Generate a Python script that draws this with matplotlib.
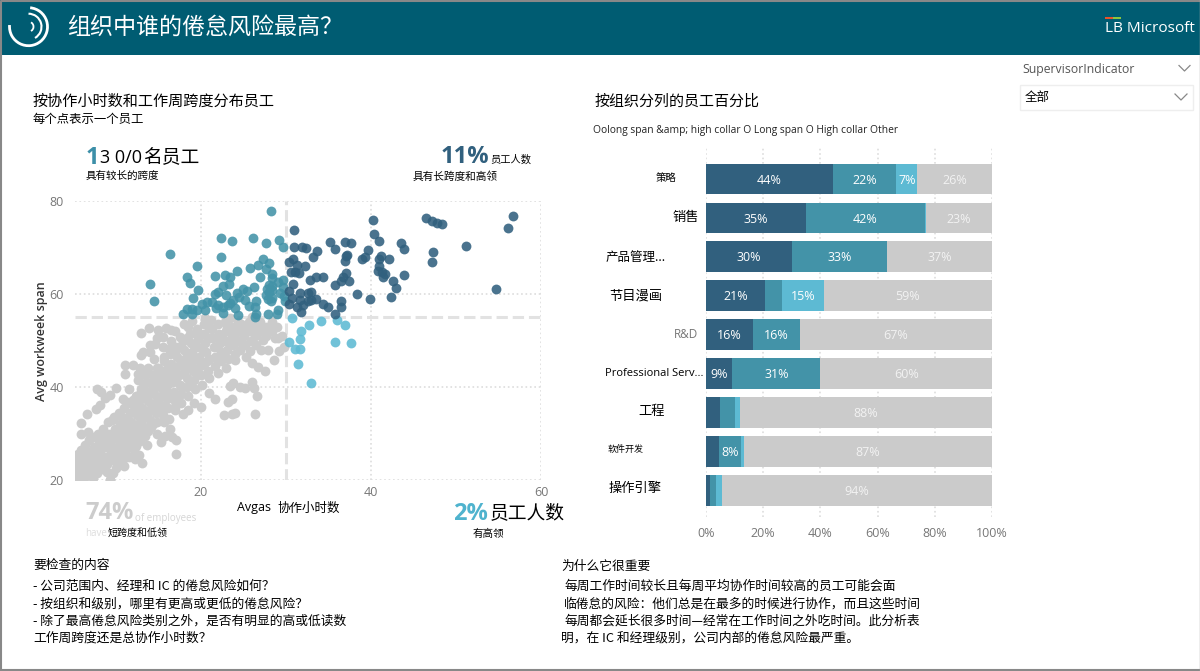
import matplotlib
matplotlib.use('Agg')
import matplotlib.pyplot as plt
from matplotlib.patches import Rectangle, Arc

plt.rcParams['font.family'] = ['Noto Sans CJK SC', 'DejaVu Sans']

# scatter values: (collab hours, workweek span)
dark_pts = [(30.9,73.8),(31.0,70.2),(31.9,70.2),(32.4,69.9),(33.7,69.3),(33.2,68.0),(35.2,71.1),(35.8,69.7),
    (36.9,71.1),(37.7,71.0),(40.2,76.0),(40.3,73.0),(40.9,71.5),(39.6,69.5),(37.1,68.2),(37.2,68.4),(36.9,67.2),
    (39.0,67.5),(39.3,68.0),(40.9,67.6),(41.2,68.1),(42.1,67.5),(43.5,71.0),(43.9,69.6),(46.5,76.4),(47.2,75.6),
    (47.8,75.2),(48.4,75.1),(47.3,69.1),(47.2,66.9),(51.2,70.3),(56.7,76.8),(56.1,74.2),(54.7,61.1),(43.9,64.0),
    (42.6,62.7),(43.0,61.2),(42.3,59.4),(39.9,58.9),(38.4,59.9),(40.9,66.0),(40.8,65.0),(41.3,64.8),(41.6,64.4),
    (41.4,63.7),(37.1,64.6),(36.7,63.7),(36.5,62.7),(35.8,62.0),(37.4,62.7),(34.4,63.7),(33.5,63.7),(32.8,63.0),
    (30.8,67.5),(30.4,66.8),(31.3,66.2),(32.2,66.0),(30.6,64.8),(31.1,64.8),(31.5,64.6),(30.8,62.2),(30.3,60.7),
    (31.6,60.2),(32.6,60.3),(32.9,60.4),(30.7,59.1),(31.7,58.7),(33.5,58.9),(33.0,58.7),(32.6,58.4),(34.3,57.9),
    (34.9,57.1),(36.5,58.4),(36.5,57.1),(35.8,55.6),(31.8,56.1),(31.3,57.3),(32.0,57.6),(30.4,57.9)]
teal_pts = [(28.2,77.8),(22.4,72.1),(23.6,71.3),(26.1,72.0),(27.6,71.0),(29.2,71.6),(29.7,70.1),(16.4,68.5),
    (22.4,67.9),(19.5,66.0),(27.3,67.5),(26.7,66.3),(28.0,66.6),(25.8,65.6),(24.2,64.9),(18.4,63.7),(18.7,62.3),
    (21.6,63.8),(22.8,64.1),(23.4,63.6),(27.0,63.7),(27.7,65.3),(28.4,64.4),(28.3,63.4),(14.0,62.1),(14.5,58.4),
    (19.6,60.9),(22.6,61.8),(23.3,62.2),(26.2,61.5),(28.0,62.0),(29.1,62.5),(28.3,60.9),(27.7,59.8),(27.9,58.9),
    (28.3,59.1),(22.0,60.4),(21.6,60.0),(23.0,59.8),(24.2,60.3),(25.4,60.7),(24.5,59.4),(25.2,58.7),(19.1,59.1),
    (20.1,57.8),(20.7,58.2),(21.3,58.2),(22.0,57.6),(21.8,56.9),(22.6,57.1),(23.4,58.0),(23.8,58.7),(18.3,56.8),
    (18.9,56.8),(19.5,56.6),(17.9,55.8),(22.6,56.0),(23.2,57.6),(24.3,55.5),(25.6,57.4),(26.4,57.3),(26.5,55.8),
    (26.4,55.1),(27.9,55.7),(29.1,56.6),(28.9,55.8),(29.7,61.6),(29.3,60.2),(29.9,58.4),(28.0,60.5),(28.4,61.8),
    (27.8,61.0),(28.2,58.5),(29.6,63.0),(29.8,59.5),(25.0,61.0),(26.5,58.5),(24.0,57.0),(19.0,55.6),(20.5,56.5)]
light_pts = [(30.7,54.9),(32.7,53.4),(34.1,54.2),(36.0,54.4),(36.9,53.3),(31.8,52.0),(31.7,50.4),(30.3,49.7),
    (31.1,48.2),(31.7,48.2),(35.8,49.7),(37.6,49.5),(31.4,45.0),(33.0,40.9)]
gray_pts = [(5.3,20.5),(5.4,22),(5.3,24),(5.5,25.5),(5.6,23),(5.8,21),(5.9,26.5),(6.0,24.5),(6.1,22.5),(6.2,20.4),
    (6.3,27.5),(6.4,25.5),(6.5,23.5),(6.6,21.5),(6.8,28.5),(6.9,26),(7.0,24),(7.1,22),(7.3,20.5),(7.3,29.2),
    (7.4,27),(7.5,25),(7.6,23),(7.8,21.5),(7.9,30),(8.0,28),(8.1,26),(8.2,24),(8.3,22.3),(8.5,31),(8.6,29),
    (8.7,27),(8.8,25),(8.9,23.5),(9.1,32.5),(9.2,30),(9.3,28),(9.4,26),(9.5,24.2),(9.7,21.6),(9.3,20),(9.8,33.5),
    (9.9,31),(10,29),(10.1,27),(10.2,25),(10.4,34.5),(10.5,32),(10.6,30),(10.7,28),(10.8,26),(10.9,24.8),(11,35.5),
    (11.1,33),(11.2,31),(11.3,29),(11.4,27.2),(11.6,36.5),(11.7,34.5),(11.8,32.5),(11.9,30.5),(12,28.5),(12.1,26.5),
    (12.3,38),(12.4,36),(12.5,34),(12.6,32),(12.7,30),(12.8,28.3),(12.9,39.5),(13,37.5),(13.1,35.5),(13.2,33.5),
    (13.3,31.5),(13.4,29.5),(13.6,41),(13.7,39),(13.8,37),(13.9,35),(14,33),(14.1,31.3),(14.3,42.5),(14.4,40.5),
    (14.5,38.5),(14.6,36.5),(14.7,34.5),(14.8,32.5),(15,44),(15.1,42),(15.2,40),(15.3,38),(15.4,36),(15.5,34),
    (15.6,45.5),(15.7,43.5),(15.8,41.5),(15.9,39.5),(16,37.5),(16.1,35.5),(16.2,33.2),(16.4,47),(16.5,45),(16.6,43),
    (16.7,41),(16.8,39),(16.9,37),(17,35),(17.1,48.5),(17.2,46.5),(17.3,44.5),(17.4,42.5),(17.5,40.5),(17.6,38.5),
    (17.7,36.5),(17.9,50),(18,48),(18.1,46),(18.2,44),(18.3,42),(18.4,40),(18.5,38),(18.7,51.5),(18.8,49.5),
    (18.9,47.5),(19,45.5),(19.1,43.5),(19.2,41.5),(19.3,39.5),(19.5,52.5),(19.6,50.5),(19.7,48.5),(19.8,46.5),
    (19.9,44.5),(20,42.5),(20.1,40.5),(20.3,53.5),(20.4,51.5),(20.5,49.5),(20.6,47.5),(20.7,45.5),(20.8,43.5),
    (21,38.8),(21.2,54.5),(21.3,52.5),(21.4,50.5),(21.5,48.5),(21.6,46.5),(21.7,44.5),(21.6,37.4),(22,53.5),
    (22.1,51.5),(22.2,49.5),(22.3,47.5),(22.4,45.5),(22.8,54),(22.9,52),(23,50),(23.1,48),(23.2,46),(23.6,53),
    (23.7,51),(23.8,49),(24.3,54),(24.4,52),(24.5,50),(24.6,48),(25,53),(25.1,51),(25.2,49),(25.3,46.5),(25.7,54),
    (25.8,52),(25.9,50),(26.3,53),(26.4,51),(26.5,49),(26.9,54),(27,52),(27.6,53),(27.7,51),(28.3,54),(28.4,52),
    (29,53),(29.1,50.5),(13,51.7),(13.9,52.6),(15,52.2),(15.9,52.6),(14,49),(14.6,49.2),(12.9,46.8),(11.1,44.7),
    (12,44.7),(11.1,42.9),(12.8,44),(7.8,39.6),(8.2,39),(9.3,38.3),(10,39.7),(8.7,37.7),(8.1,36.1),(7.6,35.2),
    (6.6,34.3),(5.9,32.2),(5.85,30),(6.75,30.4),(17.1,25.5),(12.7,25.4),(13.1,23.6),(9.3,20),(15.3,28.1),(17.1,28.6),
    (16.6,29.2),(15.8,29.5),(26.4,34.1),(24,34.5),(23.7,34.3),(22.7,33.9),(23.7,37.4),(23.2,36.8),(20,35.7),
    (26.6,38.1),(26.2,39.7),(26,41.1),(25.2,39.7),(24.6,39.9),(23.8,40.8),(23.4,40.2),(27.5,43.5),(26.7,44.4),
    (26,45.2),(28.6,45.7),(27.1,47.9),(29.8,48.7),(17,52),(18,53.5),(19,54.3),(16.5,50),(15.5,48.5),(14.5,46),
    (13.8,44),(12.6,41.5),(11.5,39.5),(10.8,37.5),(16.3,31),(14.8,30),(13.6,27.5),(12.2,24.5),(11,23),(10,22.5),
    (18.5,35),(19.2,36.5),(17.9,34.2),(20.5,54.8),(23.4,54.8),(26,55),(27.9,48),(29.5,51),(29.2,47.8),(24,45.8),
    (21,42),(22,43),(23,44),
    (6.3,21.8),(7.2,23.4),(6.7,25),(7.7,26),(8.4,24.6),(9,27.5),(8.3,29.2),(9.6,29.5),(10.4,26.5),(10.3,28.6),
    (11.1,26),(9.7,25.2),(8.9,21.8),(10.4,23.6),(11.5,25),(12.4,27.4),(11.7,29.6),(12.3,31),(11.3,32),(10.7,33.5),
    (10.2,31),(9.5,32.8),(13,32.5),(13.8,30.5),(14.4,32),(13.6,34),(12.9,35),(12.1,35),(11.3,36.8),(12,37.3),
    (12.8,38.4),(13.5,38),(14.3,36),(15,35),(15.7,32.5),(14.9,37),(15.6,38.8),(14.2,39.5),(13.3,40.6),(12.6,42.8),
    (13.4,42.6),(14.6,41.2),(15.3,42.8),(16.1,40.6),(16.4,38),(16.9,35.8),(17.3,38),(17.8,40),(17.1,41.8),(16.2,42.6),
    (14.8,44),(15.6,46.4),(16.1,44.5),(17,44),(18,43),(18.7,41),(19.6,42.8),(18.8,44.8),(17.8,45),(17,47.5),
    (16.2,48.2),(17.6,48.8),(18.4,47),(19.4,46),(20.3,45),(21,46),(20.2,48),(19.2,49),(18.4,50.5),(19.8,51.5),
    (20.9,50.6),(21,52.6),(22.5,50.8),(21.9,48.5),(23.4,49.2),(24,50.6),(23.1,52.6),(24.7,53.5),(25.4,52),(26.7,51.8),
    (26.6,53.8),(27.3,50.2),(28,52.8),(28.7,50.5),(22.6,46.5),(24,47.2),(25.8,47.8),(17.5,50.8),(16.5,52.3),(18.5,52.8),
    (14.8,50.5),(15.5,50.8),(13.2,47.5),(14,47.5)]

orgs = ['策略', '销售', '产品管理...', '节目漫画', 'R&D', 'Professional Serv...', '工程', '软件开发', '操作引擎']
long_high = [44.4, 34.8, 30.2, 20.6, 16.4, 9.2, 4.8, 4.5, 1.4]
long_span = [22.1, 41.8, 33.2, 6.0, 16.4, 30.8, 5.3, 7.9, 2.2]
high_collar = [7.4, 0.4, 0, 14.6, 0, 0, 1.9, 0.9, 2.1]
other = [26.1, 23.0, 36.6, 58.8, 67.2, 60.0, 88.0, 86.7, 94.3]
pct_ticks = [0, 20, 40, 60, 80, 100]

C_DARK = '#31607E'
C_TEAL = '#4393A8'
C_LIGHT = '#5DBAD3'
C_GRAY = '#CBCBCB'

fig = plt.figure(figsize=(12, 6.71), dpi=100)


def px_axes(left, top, right, bottom, **kw):
    return fig.add_axes([left / 1200, 1 - bottom / 671, (right - left) / 1200, (bottom - top) / 671], **kw)


bg = px_axes(0, 0, 1200, 671)
bg.set_xlim(0, 1200)
bg.set_ylim(671, 0)
bg.axis('off')


def put(x, y, s, size=9, color='black', ha='left', **kw):
    bg.text(x, y, s, fontsize=size, color=color, ha=ha, va='center', **kw)


# header and frame
bg.add_patch(Rectangle((0, 0), 1200, 55, color='#005C72', lw=0))
bg.plot([0.5, 0.5, 1199.5], [671, 0.5, 0.5], color='#888888', lw=1.5)
bg.plot([0, 1200], [670, 670], color='#888888', lw=1.5)
bg.plot([1199.5, 1199.5], [0, 671], color='#AAAAAA', lw=1)
for d, t1, t2, w in [(38, -85, 185, 2.0), (26, -90, 60, 1.5), (10, -60, 60, 1.3)]:
    bg.add_patch(Arc((28.5, 26.7), d, d, theta1=t1, theta2=t2, color='white', lw=w))
put(67, 27, '组织中谁的倦怠风险最高？', 16.6, 'white')
put(1105, 28, 'LB Microsoft', 11.1, 'white', family='Open Sans')
bg.add_patch(Rectangle((1105, 17), 8, 2, color='#E8532B', lw=0))
bg.add_patch(Rectangle((1113, 17), 8, 2, color='#8CC63F', lw=0))

# slicer
put(1022, 69, 'SupervisorIndicator', 8.8, '#555555', family='Open Sans')
bg.plot([1179, 1184.5, 1190], [65.5, 71, 65.5], color='#888888', lw=0.9)
bg.add_patch(Rectangle((1019.5, 84.5), 173, 25, fc='white', ec='#EEEEEE', lw=1))
put(1025, 97, '全部', 9)
bg.plot([1175, 1181, 1187], [94, 100, 94], color='#888888', lw=0.9)

# left headings and KPI text
put(33, 101, '按协作小时数和工作周跨度分布员工', 10.9)
put(33, 119, '每个点表示一个员工', 8.9)
put(86, 158, '1', 17, '#3C8FA8', weight='bold', family='Open Sans')
put(100, 158, '3 0/0', 13, family='Open Sans')
put(143, 158, '名员工', 13.5)
put(86, 176, '具有较长的跨度', 7.6)
put(441, 157, '11%', 17, C_DARK, weight='bold', family='Open Sans')
put(490, 160, '员工人数', 7.4)
put(413, 176, '具有长跨度和高领', 7.7)
put(85, 513, '74%', 17, '#CCCCCC', weight='bold', family='Open Sans')
put(135, 518, 'of employees', 7, '#D5D5D5', family='Open Sans')
put(85, 533, 'have', 7, '#DDDDDD', family='Open Sans')
put(108, 533, '短跨度和低领', 7.2)
put(453, 514, '2%', 17, '#4FB3CE', weight='bold', family='Open Sans')
put(490, 513, '员工人数', 13.5)
put(473, 534, '有高领', 7.6)
put(237, 508, 'Avgas', 9, family='Open Sans')
put(277, 508, '协作小时数', 9)
bg.text(41, 341, 'Avg workweek span', fontsize=9, color='#333333', rotation=90, ha='center', va='center',
        family='Open Sans', weight='semibold')

# right headings
put(595, 102, '按组织分列的员工百分比', 10.8)
put(593, 130, 'Oolong span &amp; high collar O Long span O High collar Other', 7.4, '#222222', family='Open Sans')

# bottom notes
left_notes = [(33, 565, '要检查的内容'), (33, 586, '- 公司范围内、经理和 IC 的倦怠风险如何？'),
              (33, 604, '- 按组织和级别，哪里有更高或更低的倦怠风险？'), (33, 621, '- 除了最高倦怠风险类别之外，是否有明显的高或低读数'),
              (33, 638, '工作周跨度还是总协作小时数？')]
right_notes = [(561, 566, '为什么它很重要'), (564, 586, '每周工作时间较长且每周平均协作时间较高的员工可能会面'),
               (564, 604, '临倦怠的风险：他们总是在最多的时候进行协作，而且这些时间'),
               (564, 621, '每周都会延长很多时间—经常在工作时间之外吃时间。此分析表'),
               (561, 638, '明，在 IC 和经理级别，公司内部的倦怠风险最严重。')]
for x, y, s in left_notes + right_notes:
    put(x, y, s, 9.2)

# scatter
ax = px_axes(75, 201, 541, 480)
ax.patch.set_alpha(0)
ax.set_xlim(5.18, 60)
ax.set_ylim(20, 80)
for side in ax.spines.values():
    side.set_visible(False)
ax.set_xticks([20, 40, 60])
ax.set_yticks([20, 40, 60, 80])
ax.tick_params(axis='x', length=0, labelcolor='#777777', labelsize=9, pad=4)
ax.tick_params(axis='y', length=0, labelcolor='#777777', labelsize=9, pad=8)
ax.grid(True, color='#DDDDDD', linestyle=':', linewidth=1.2, zorder=0)
ax.set_axisbelow(True)
ax.axhline(55, color='#E2E2E2', linestyle='--', linewidth=2.2, zorder=1)
ax.axvline(30, color='#E2E2E2', linestyle='--', linewidth=2.2, zorder=1)
for tick in ax.get_xticklabels() + ax.get_yticklabels():
    tick.set_family('Open Sans')
for pts, col in [(gray_pts, C_GRAY), (light_pts, C_LIGHT), (teal_pts, C_TEAL), (dark_pts, C_DARK)]:
    ax.scatter([p[0] for p in pts], [p[1] for p in pts], s=50, color=col, alpha=0.88 if col != C_GRAY else 1,
               linewidths=0, zorder=3)

# stacked bars
ax2 = px_axes(706, 148, 992, 517)
ax2.patch.set_alpha(0)
ax2.set_xlim(0, 100)
ax2.set_ylim(8.69, -0.797)
for side in ax2.spines.values():
    side.set_visible(False)
ax2.set_xticks(pct_ticks)
ax2.set_xticklabels([f'{v}%' for v in pct_ticks], family='Open Sans')
ax2.set_yticks([])
ax2.tick_params(axis='x', length=0, labelcolor='#777777', labelsize=9, pad=7)
ax2.grid(True, axis='x', color='#DDDDDD', linestyle=':', linewidth=1.2, zorder=0)
ax2.set_axisbelow(True)
ypos = list(range(len(orgs)))
start = [0] * len(orgs)
for vals, col, txt in [(long_high, C_DARK, 'white'), (long_span, C_TEAL, 'white'), (high_collar, C_LIGHT, 'white'),
                       (other, C_GRAY, '#F2F2F2')]:
    ax2.barh(ypos, vals, left=start, height=0.79, color=col, linewidth=0, zorder=3)
    for i, v in enumerate(vals):
        if v >= 6.5:
            ax2.text(start[i] + v / 2, i + 0.03, f'{v:.0f}%', color=txt, fontsize=9, ha='center', va='center',
                     family='Open Sans', zorder=4)
    start = [a + b for a, b in zip(start, vals)]

org_x = [656, 672, 606, 609, 674, 605, 638, 608, 609]
org_y = [178, 217, 257, 296, 334, 373, 412, 449, 488]
org_size = [7.5, 9.5, 9, 9.5, 8.5, 8, 9.5, 6.5, 9.5]
for i, name in enumerate(orgs):
    latin = name[0] in 'RP'
    put(org_x[i], org_y[i], name, org_size[i], '#777777' if name == 'R&D' else 'black',
        **({'family': 'Open Sans'} if latin else {}))

fig.savefig('out.png', dpi=100)
